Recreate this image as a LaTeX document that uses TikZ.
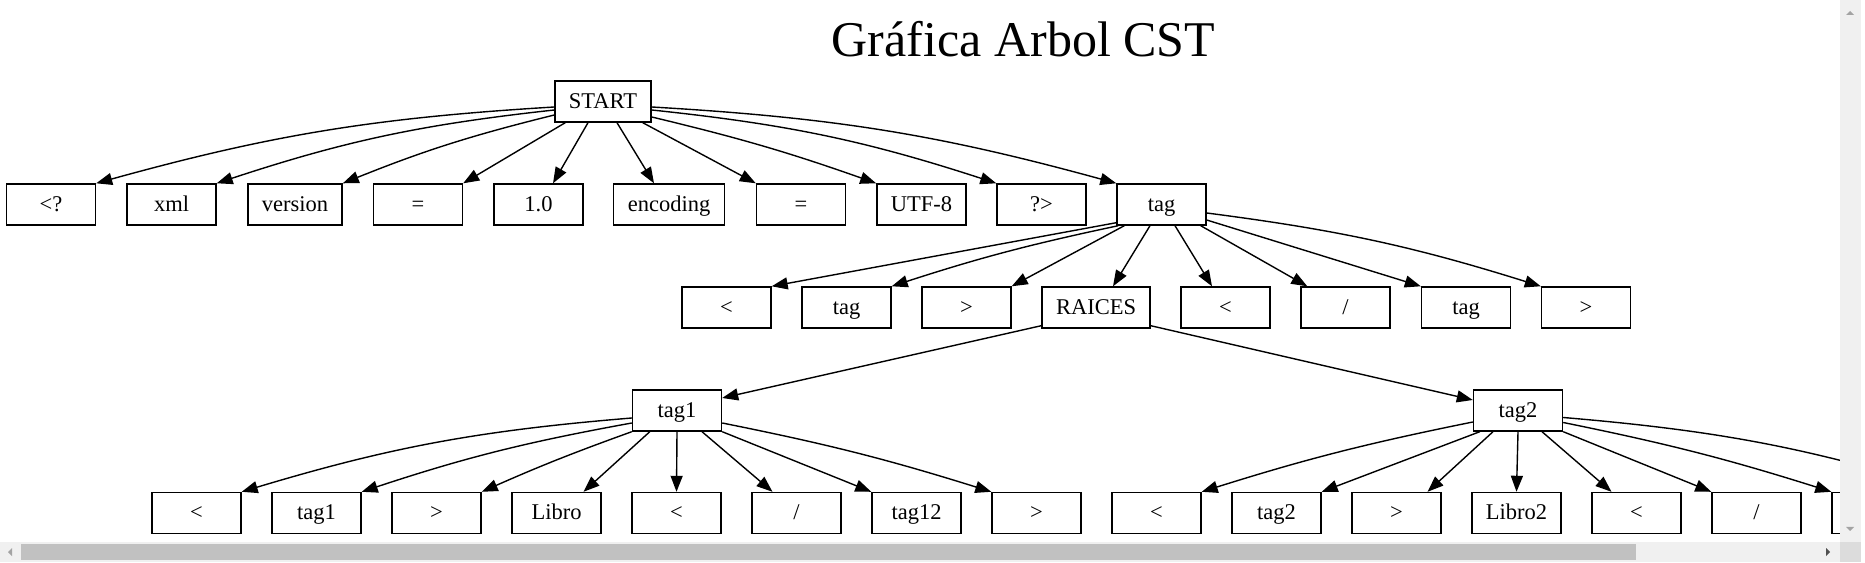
\documentclass[tikz,border=0pt]{standalone}
\usepackage{fontspec}
\setmainfont{Liberation Serif}
\usetikzlibrary{arrows.meta,positioning,calc}
\definecolor{sbtrack}{HTML}{F0F0F0}
\definecolor{sbthumb}{HTML}{C1C1C1}
\definecolor{sbarrow}{HTML}{A3A3A3}
\definecolor{sbcorner}{HTML}{DCDCDC}
\definecolor{sbdark}{HTML}{505050}
\tikzset{
  tok/.style={draw,rectangle,line width=1.4pt,minimum width=89pt,minimum height=41pt,inner xsep=14pt,inner ysep=0pt,text height=15pt,text depth=1pt,font=\fontsize{22.5}{27}\selectfont},
  arr/.style={-{Triangle[length=16pt,width=12pt]},line width=1.4pt},
  ttl/.style={font=\fontsize{50}{60}\selectfont,anchor=base}
}
\begin{document}
\begin{tikzpicture}[x=1pt,y=1pt]
  \useasboundingbox (0,0) rectangle (1865,562);
  \begin{scope}
  \clip (0,20) rectangle (1840,562);
  % Title
  \node[ttl] (title) at (1023.5,505) {Gráfica Arbol CST};

  % Root
  \node[tok] (start) at (603,460.5) {START};

  % Row 1 tokens
  \node[tok] (lq) at (51,357.5) {<?};
  \node[tok] (xml) at (171.5,357.5) {xml};
  \node[tok] (ver) at (295,357.5) {version};
  \node[tok] (eqa) at (418,357.5) {=};
  \node[tok] (one) at (538.5,357.5) {1.0};
  \node[tok] (enc) at (669,357.5) {encoding};
  \node[tok] (eqb) at (801,357.5) {=};
  \node[tok] (utf) at (921.5,357.5) {UTF-8};
  \node[tok] (qg) at (1041.5,357.5) {?>};
  \node[tok] (tagn) at (1161.5,357.5) {tag};

  % Connections from START
  \draw[arr] ($(start.west)+(0,-5.5)$) to[bend right=6] (lq.north east);
  \draw[arr] ($(start.west)+(0,-8.5)$) to[bend right=6] (xml.north east);
  \draw[arr] ($(start.west)+(0,-13.5)$) to[bend right=4] (ver.north east);
  \draw[arr] ($(start.south west)+(11,0)$) -- (eqa.north east);
  \draw[arr] ($(start.south)+(-15,0)$) -- ($(one.north)+(14.5,0)$);
  \draw[arr] ($(start.south)+(14,0)$) -- ($(enc.north)+(-15,0)$);
  \draw[arr] ($(start.south east)+(-9,0)$) -- (eqb.north west);
  \draw[arr] ($(start.east)+(0,-15.5)$) to[bend left=3] (utf.north west);
  \draw[arr] ($(start.east)+(0,-8.5)$) to[bend left=6] (qg.north west);
  \draw[arr] ($(start.east)+(0,-5.5)$) to[bend left=6] (tagn.north west);

  % Row 2 tokens
  \node[tok] (lta) at (726.5,254.5) {<};
  \node[tok] (tga) at (846.5,254.5) {tag};
  \node[tok] (gta) at (966.5,254.5) {>};
  \node[tok] (rai) at (1096,254.5) {RAICES};
  \node[tok] (ltb) at (1225.5,254.5) {<};
  \node[tok] (sla) at (1345.5,254.5) {/};
  \node[tok] (tgb) at (1466,254.5) {tag};
  \node[tok] (gtb) at (1586,254.5) {>};

  % Connections from tag
  \draw[arr] ($(tagn.south west)+(0,3)$) -- (lta.north east);
  \draw[arr] ($(tagn.south west)+(2,0)$) to[bend right=3] (tga.north east);
  \draw[arr] ($(tagn.south west)+(8,0)$) -- (gta.north east);
  \draw[arr] ($(tagn.south)+(-11.5,0)$) -- ($(rai.north)+(17,0)$);
  \draw[arr] ($(tagn.south)+(13.5,0)$) -- ($(ltb.north)+(-13.5,0)$);
  \draw[arr] ($(tagn.south east)+(-6,0)$) -- ($(sla.north west)+(7,0)$);
  \draw[arr] ($(tagn.east)+(0,-15.5)$) -- (tgb.north west);
  \draw[arr] ($(tagn.east)+(0,-8.5)$) to[bend left=5] (gtb.north west);

  % Row 3 tags
  \node[tok] (t1) at (677,151.5) {tag1};
  \node[tok] (t2) at (1518,151.5) {tag2};
  \draw[arr] ($(rai.south west)+(0,3)$) -- ($(t1.east)+(0,12.5)$);
  \draw[arr] ($(rai.south east)+(0,3)$) -- ($(t2.west)+(0,10.5)$);

  % Row 4 leaves (last two run off the view)
  \foreach \lab [count=\i from 0] in {<,tag1,>,Libro,<,/,tag12,>,<,tag2,>,Libro2,<,/,{},{}}
    \node[tok] (k\i) at ({196.5+120*\i},49) {\lab};

  % Connections from tag1
  \draw[arr] ($(t1.west)+(0,-7.5)$) to[bend right=6] (k0.north east);
  \draw[arr] ($(t1.west)+(0,-12.5)$) to[bend right=4] (k1.north east);
  \draw[arr] (t1.south west) to[bend right=2] (k2.north east);
  \draw[arr] ($(t1.south west)+(18,0)$) -- ($(k3.north)+(27,0)$);
  \draw[arr] (t1.south) -- (k4.north);
  \draw[arr] ($(t1.south)+(25,0)$) -- ($(k5.north)+(-24,0)$);
  \draw[arr] (t1.south east) -- (k6.north west);
  \draw[arr] ($(t1.east)+(0,-12.5)$) to[bend left=3] (k7.north west);

  % Connections from tag2
  \draw[arr] ($(t2.west)+(0,-11.5)$) to[bend right=3] (k8.north east);
  \draw[arr] ($(t2.south west)+(7,0)$) -- (k9.north east);
  \draw[arr] ($(t2.south)+(-25,0)$) -- ($(k10.north)+(31,0)$);
  \draw[arr] (t2.south) -- (k11.north);
  \draw[arr] ($(t2.south)+(24,0)$) -- ($(k12.north)+(-25,0)$);
  \draw[arr] (t2.south east) -- (k13.north west);
  \draw[arr] ($(t2.east)+(0,-12)$) to[bend left=3] (k14.north west);
  \draw[arr] ($(t2.east)+(0,-7)$) to[bend left=6] (k15.north west);
  \end{scope}

  % Scroll bars
  \fill[sbtrack] (1840,20) rectangle (1861,562);
  \fill[sbtrack] (0,0) rectangle (1840,20);
  \fill[sbcorner] (1840,0) rectangle (1861,20);
  \fill[sbthumb] (21,2) rectangle (1636,18);
  \fill[sbarrow] (1846,547) -- (1854,547) -- (1850,551) -- cycle;
  \fill[sbarrow] (1846,35) -- (1854,35) -- (1850,31) -- cycle;
  \fill[sbarrow] (12,6) -- (12,14) -- (8,10) -- cycle;
  \fill[sbdark] (1826,6) -- (1826,14) -- (1830,10) -- cycle;
\end{tikzpicture}
\end{document}
